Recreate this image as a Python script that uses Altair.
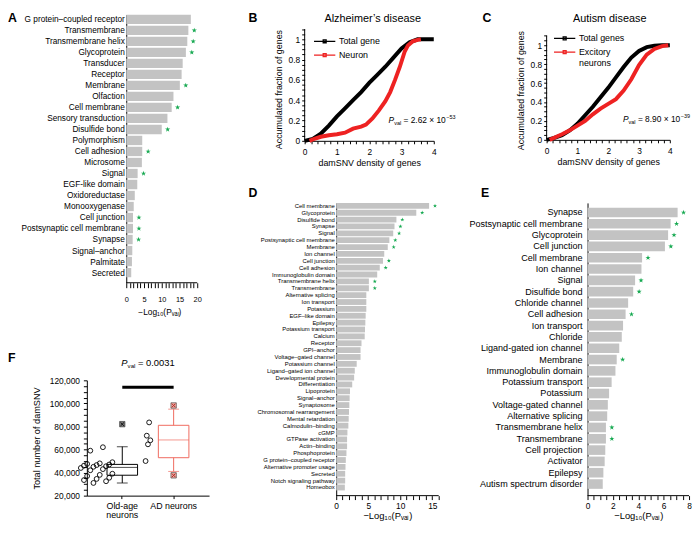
import altair as alt
import pandas as pd

FONT = "Liberation Sans"
GRAY = "#c3c3c3"
GREEN = "#16a951"
RED = "#ee2222"
BOXRED = "#ef6a5e"
STAR = "M0,-1L0.2245,-0.309L0.951,-0.309L0.363,0.118L0.588,0.809L0,0.382L-0.588,0.809L-0.363,0.118L-0.951,-0.309L-0.2245,-0.309Z"
XMARK = "M-1,-1L1,1M-1,1L1,-1"
LEGSYM = "M-3.6,0H3.6M-0.5,-0.5H0.5V0.5H-0.5Z"
LOGP = "−Log₁₀(Pᵥₐₗ)"
ONE = pd.DataFrame({"k": [0]})

# ---------------- Panel A ----------------
a_terms = ["G protein–coupled receptor", "Transmembrane", "Transmembrane helix", "Glycoprotein",
           "Transducer", "Receptor", "Membrane", "Olfaction", "Cell membrane", "Sensory transduction",
           "Disulfide bond", "Polymorphism", "Cell adhesion", "Microsome", "Signal", "EGF-like domain",
           "Oxidoreductase", "Monooxygenase", "Cell junction", "Postsynaptic cell membrane", "Synapse",
           "Signal–anchor", "Palmitate", "Secreted"]
a_vals = [18.2, 17.5, 17.2, 16.8, 15.9, 15.6, 15.1, 13.3, 12.8, 11.6, 10.0, 4.5, 4.5, 4.4, 3.2, 3.1,
          2.4, 2.1, 1.9, 1.9, 1.8, 1.7, 1.6, 1.4]
a_stars = ["Transmembrane", "Transmembrane helix", "Glycoprotein", "Membrane", "Cell membrane",
           "Disulfide bond", "Cell adhesion", "Signal", "Cell junction", "Postsynaptic cell membrane", "Synapse"]

# ---------------- Panel D ----------------
d_terms = ["Cell membrane", "Glycoprotein", "Disulfide bond", "Synapse", "Signal", "Postsynaptic cell membrane",
           "Membrane", "Ion channel", "Cell junction", "Cell adhesion", "Immunoglobulin domain",
           "Transmembrane helix", "Transmembrane", "Alternative splicing", "Ion transport", "Potassium",
           "EGF–like domain", "Epilepsy", "Potassium transport", "Calcium", "Receptor", "GPI–anchor",
           "Voltage–gated channel", "Potassium channel", "Ligand–gated ion channel", "Developmental protein",
           "Differentiation", "Lipoprotein", "Signal–anchor", "Synaptosome", "Chromosomal rearrangement",
           "Mental retardation", "Calmodulin–binding", "cGMP", "GTPase activation", "Actin–binding",
           "Phosphoprotein", "G protein–coupled receptor", "Alternative promoter usage", "Secreted",
           "Notch signaling pathway", "Homeobox"]
d_vals = [14.5, 12.5, 9.4, 9.1, 8.9, 8.3, 8.05, 7.5, 7.3, 6.8, 6.4, 5.1, 5.1, 4.7, 4.7, 4.7, 4.6, 4.55,
          4.5, 4.45, 3.95, 3.8, 3.8, 3.2, 2.9, 2.8, 2.5, 2.15, 2.1, 2.05, 2.0, 1.95, 1.9, 1.75, 1.7, 1.7,
          1.6, 1.5, 1.45, 1.4, 1.4, 1.35]
d_stars = ["Cell membrane", "Glycoprotein", "Disulfide bond", "Synapse", "Signal", "Postsynaptic cell membrane",
           "Membrane", "Cell junction", "Cell adhesion", "Transmembrane helix", "Transmembrane"]

# ---------------- Panel E ----------------
e_terms = ["Synapse", "Postsynaptic cell membrane", "Glycoprotein", "Cell junction", "Cell membrane",
           "Ion channel", "Signal", "Disulfide bond", "Chloride channel", "Cell adhesion", "Ion transport",
           "Chloride", "Ligand-gated ion channel", "Membrane", "Immunoglobulin domain", "Potassium transport",
           "Potassium", "Voltage-gated channel", "Alternative splicing", "Transmembrane helix", "Transmembrane",
           "Cell projection", "Activator", "Epilepsy", "Autism spectrum disorder"]
e_vals = [7.1, 6.55, 6.35, 6.1, 4.3, 4.25, 3.75, 3.6, 3.2, 3.0, 2.8, 2.7, 2.5, 2.3, 2.2, 1.9, 1.7, 1.6,
          1.55, 1.45, 1.45, 1.4, 1.35, 1.25, 1.2]
e_stars = ["Synapse", "Postsynaptic cell membrane", "Glycoprotein", "Cell junction", "Cell membrane", "Signal",
           "Disulfide bond", "Cell adhesion", "Membrane", "Transmembrane helix", "Transmembrane"]

# ---------------- Panel B ----------------
b_names = ["Total gene", "Neuron"]
b_tot_x = [0, 0.25, 0.5, 0.75, 1.0, 1.25, 1.5, 1.75, 2.0, 2.25, 2.5, 2.75, 3.0, 3.25, 3.5, 3.75, 4.0]
b_tot_y = [0, 0.02, 0.07, 0.15, 0.24, 0.32, 0.40, 0.48, 0.57, 0.65, 0.73, 0.82, 0.91, 0.97, 1.0, 1.0, 1.0]
b_sub_x = [0.15, 0.3, 0.5, 0.75, 1.0, 1.25, 1.5, 1.75, 1.9, 2.1, 2.3, 2.5, 2.65, 2.8, 2.95, 3.1, 3.2, 3.35, 3.5, 3.6]
b_sub_y = [0.0, 0.02, 0.04, 0.055, 0.065, 0.08, 0.12, 0.14, 0.16, 0.22, 0.30, 0.39, 0.48, 0.60, 0.73, 0.88,
           0.94, 0.98, 0.995, 1.0]
b_pval = ("2.62", "−53")
b_pval_pos = (2.6, 0.175)

# ---------------- Panel C ----------------
c_names = ["Total genes", "Excitory neurons"]
c_tot_x = [0, 0.25, 0.5, 0.75, 1.0, 1.25, 1.5, 1.75, 2.0, 2.25, 2.5, 2.75, 3.0, 3.25, 3.5, 3.75, 4.0]
c_tot_y = [0, 0.02, 0.05, 0.10, 0.17, 0.26, 0.35, 0.45, 0.55, 0.66, 0.77, 0.87, 0.94, 0.98, 0.995, 1.0, 1.0]
c_sub_x = [0.1, 0.3, 0.5, 0.75, 1.0, 1.25, 1.5, 1.75, 2.0, 2.25, 2.5, 2.75, 3.0, 3.25, 3.5, 3.75, 3.95]
c_sub_y = [0, 0.03, 0.06, 0.10, 0.15, 0.20, 0.27, 0.33, 0.38, 0.43, 0.52, 0.64, 0.79, 0.90, 0.96, 0.99, 1.0]
c_pval = ("8.90", "−39")
c_pval_pos = (2.48, 0.19)

# ---------------- Panel F ----------------
f_groups = ["Old-age neurons", "AD neurons"]
f_whisk_lo = [31000, 41000]
f_q1 = [37700, 52900]
f_median = [44500, 68300]
f_q3 = [47100, 81000]
f_whisk_hi = [62500, 95000]
old_points = [62000, 59000, 49000, 48000, 47500, 47000, 46500, 46000, 45500, 45000, 44000, 43000, 42000,
              39000, 38000, 37000, 35500, 34500, 33500, 32500, 31000]
ad_points = [83500, 72000, 68000, 64500, 50000]
old_outliers = [82000]
ad_outliers = [98200, 37600]
f_sig_level = 114000
f_pval = "0.0031"


def letter_layer(ch, dx, dy):
    return alt.Chart(ONE).mark_text(text=ch, align="left", baseline="top", fontSize=12.5,
                                    fontWeight="bold", font=FONT, color="black").encode(
        x=alt.value(dx), y=alt.value(dy))


def bar_panel(terms, vals, stars, xmin, xmax, tick_step, label_every, width, height, pad_outer, band_align,
              label_size, tick_label_size, title_size, tick_size, tick_label_pad, title_pad, star_size,
              y_label_pad, y_offset, letter, ldx, ldy, title_x=None):
    df = pd.DataFrame({"term": terms, "val": vals})
    df["star"] = df["term"].isin(stars)
    n = int(round(xmax / tick_step))
    ticks = [round(i * tick_step, 3) for i in range(n + 1)]
    yenc = alt.Y("term:N", sort=terms, title=None,
                 scale=alt.Scale(paddingInner=0.15, paddingOuter=pad_outer, align=band_align),
                 axis=alt.Axis(ticks=False, labelFontSize=label_size, labelPadding=y_label_pad,
                               labelLimit=400, offset=y_offset))
    ax_kw = dict(values=ticks, domain=False,
                 labelExpr=f"abs(datum.value/{label_every} - round(datum.value/{label_every})) < 0.001 ? format(datum.value, 'd') : ''",
                 tickSize=tick_size, labelFontSize=tick_label_size, labelPadding=tick_label_pad,
                 titleFontSize=title_size, titlePadding=title_pad, labelFlush=False,
                 labelOverlap=False, grid=False)
    if title_x is not None:
        ax_kw["titleX"] = title_x
    xenc = alt.X("val:Q", title=LOGP, scale=alt.Scale(domain=[xmin, xmax], nice=False, zero=False),
                 axis=alt.Axis(**ax_kw))
    base = alt.Chart(df)
    bars = base.mark_bar(color=GRAY).encode(x=xenc, x2=alt.datum(0), y=yenc)
    st = base.transform_filter("datum.star").mark_point(
        shape=STAR, filled=True, color=GREEN, size=star_size, opacity=1, xOffset=6, strokeWidth=0
    ).encode(x=xenc, y=yenc)
    base_df = pd.DataFrame({"val": [0], "val2": [xmax]})
    axis_line = alt.Chart(base_df).mark_rule(color="black", strokeWidth=1).encode(
        x=xenc, x2="val2:Q", y=alt.value(height))
    return alt.layer(bars, st, axis_line, letter_layer(letter, ldx, ldy)).properties(width=width, height=height)


def pval_layers(df, X, Y, mant, expo, fs):
    sub = fs * 0.65
    w_p = 0.667 * fs
    w_val = 1.278 * sub
    start_eq = w_p + w_val + 0.278 * fs
    eq_text = f"= {mant} × 10" if expo else f"= {mant}"
    w_eq = (0.584 + 0.278 + len(mant) * 0.556 - (0.278 if "." in mant else 0)
            + (0.278 + 0.584 + 0.278 + 1.112 if expo else 0)) * fs
    common = dict(align="left", baseline="alphabetic", font=FONT, color="black")
    layers = [
        alt.Chart(df).mark_text(text="P", fontStyle="italic", fontSize=fs, **common).encode(x=X, y=Y),
        alt.Chart(df).mark_text(text="val", fontSize=sub, dx=w_p, dy=2, **common).encode(x=X, y=Y),
        alt.Chart(df).mark_text(text=eq_text, fontSize=fs, dx=start_eq, **common).encode(x=X, y=Y),
    ]
    if expo:
        layers.append(alt.Chart(df).mark_text(text=expo, fontSize=sub, dx=start_eq + w_eq + 0.5, dy=-4,
                                              **common).encode(x=X, y=Y))
    return layers


def cdf_panel(xt, yt, xs, ys, names, width, height, ytop, title, tdx, tdy, pv_pos, pv, letter, ldx, ldy, lx, ly,
              ytitle_y):
    tot = pd.DataFrame({"x": xt, "y": yt, "s": names[0]})
    sub = pd.DataFrame({"x": xs, "y": ys, "s": names[1]})
    X = alt.X("x:Q", scale=alt.Scale(domain=[0, 4], nice=False),
              axis=alt.Axis(values=[round(i * 0.2, 1) for i in range(21)],
                            labelExpr="abs(datum.value - round(datum.value)) < 0.001 ? format(datum.value, 'd') : ''",
                            title="damSNV density of genes", tickSize=3, labelPadding=4, labelFontSize=8.5,
                            titleFontSize=9, titlePadding=3, labelFlush=False, labelOverlap=False))
    Y = alt.Y("y:Q", scale=alt.Scale(domain=[0, ytop], nice=False),
              axis=alt.Axis(values=[round(i * 0.05, 2) for i in range(23)], domain=False,
                            labelExpr="abs(datum.value*5 - round(datum.value*5)) < 0.001 ? format(datum.value, '~g') : ''",
                            title="Accumulated fraction of genes", tickSize=3, labelPadding=2, labelFontSize=8.5,
                            titleFontSize=9, titlePadding=5, titleY=ytitle_y, labelFlush=False,
                            labelOverlap=False))
    leg = alt.Legend(orient="none", legendX=lx, legendY=ly, title=None, padding=0, labelFontSize=9,
                     symbolType=LEGSYM, symbolSize=36, symbolStrokeWidth=1.3, labelOffset=10, rowPadding=4,
                     labelExpr="datum.label == 'Excitory neurons' ? ['Excitory', 'neurons'] : datum.label")
    C = alt.Color("s:N", scale=alt.Scale(domain=names, range=["black", RED]), legend=leg)
    l1 = alt.Chart(tot).mark_line(strokeWidth=4).encode(x=X, y=Y, color=C)
    l2 = alt.Chart(sub).mark_line(strokeWidth=4).encode(x=X, y=Y, color=C)
    yline = alt.Chart(pd.DataFrame({"x": [0], "y": [0], "y2": [1.1]})).mark_rule(
        color="black", strokeWidth=1).encode(x=X, y=Y, y2="y2:Q")
    pv_df = pd.DataFrame({"x": [pv_pos[0]], "y": [pv_pos[1]]})
    ttl = alt.Chart(ONE).mark_text(text=title, fontSize=11, align="center", baseline="middle", font=FONT,
                                   color="black").encode(x=alt.value(tdx), y=alt.value(tdy))
    layers = [yline, l1, l2] + pval_layers(pv_df, X, Y, pv[0], pv[1], 8.5) + [ttl, letter_layer(letter, ldx, ldy)]
    return alt.layer(*layers).properties(width=width, height=height)


# ---------- build panels ----------
A = bar_panel(a_terms, a_vals, a_stars, -11.111, 20, 1, 5, 112, 272, 0.25, 0, 8.4, 7.5, 8.5, 5, 8, 5, 30, 2,
              -40, "A", -80, -3, title_x=73.5)
D = bar_panel(d_terms, d_vals, d_stars, -4.923, 16, 1, 5, 136, 297, 0.38, 0, 6, 8.5, 9.5, 4, 2, 0.5, 20, 2,
              -32, "D", -57, -16, title_x=84)
E = bar_panel(e_terms, e_vals, e_stars, 0, 8, 0.5, 2, 103, 297, 0.51, 0.41, 9.2, 8.5, 9.5, 4, 2, 0.5, 30, 5.5,
              0, "E", -108, -16)

B = cdf_panel(b_tot_x, b_tot_y, b_sub_x, b_sub_y, b_names, 131, 128, 1.2427, "Alzheimer’s disease", 69, 4,
              b_pval_pos, b_pval, "B", -57, -3, 15.8, 22.5, 75.5)
Cp = cdf_panel(c_tot_x, c_tot_y, c_sub_x, c_sub_y, c_names, 125, 127, 1.3229, "Autism disease", 64, 4,
               c_pval_pos, c_pval, "C", -65, -3, 13.8, 19.5, 76.5)

# F panel
box_df = pd.DataFrame({"cat": f_groups, "lo": f_whisk_lo, "q1": f_q1, "med": f_median, "q3": f_q3,
                       "hi": f_whisk_hi})
pts_df = pd.DataFrame({"cat": [f_groups[0]] * len(old_points) + [f_groups[1]] * len(ad_points),
                       "v": old_points + ad_points})
out_df = pd.DataFrame({"cat": [f_groups[0]] * len(old_outliers) + [f_groups[1]] * len(ad_outliers),
                       "v": old_outliers + ad_outliers})
sig_df = pd.DataFrame({"cat": f_groups, "v": [f_sig_level, f_sig_level]})


def yF(field):
    return alt.Y(f"{field}:Q", scale=alt.Scale(domain=[20000, 120000], nice=False, zero=False),
                 axis=alt.Axis(values=list(range(20000, 120001, 5000)),
                               labelExpr="datum.value % 20000 === 0 ? format(datum.value, ',') : ''",
                               title="Total number of damSNV", tickSize=3.5, labelPadding=4, labelFontSize=8.5,
                               titleFontSize=9.3, titlePadding=8, labelOverlap=False, labelFlush=False))


xF = alt.X("cat:N", sort=f_groups, title=None,
           scale=alt.Scale(type="band", domain=f_groups, paddingInner=0, paddingOuter=0.19),
           axis=alt.Axis(labelAngle=0, labelFontSize=9, tickSize=3, labelPadding=3, labelLineHeight=9.5,
                         labelExpr="datum.label == 'Old-age neurons' ? ['Old-age', 'neurons'] : datum.label"))
colr = alt.condition("datum.cat == 'AD neurons'", alt.value(BOXRED), alt.value("black"))

fb = alt.Chart(box_df)
f_box = fb.mark_bar(size=31, fillOpacity=0, strokeWidth=1).encode(x=xF, y=yF("q1"), y2="q3:Q", stroke=colr)
f_med = fb.mark_tick(size=31, thickness=1).encode(x=xF, y=yF("med"), color=colr)
f_w1 = fb.mark_rule(strokeWidth=1).encode(x=xF, y=yF("lo"), y2="q1:Q", color=colr)
f_w2 = fb.mark_rule(strokeWidth=1).encode(x=xF, y=yF("q3"), y2="hi:Q", color=colr)
f_c1 = fb.mark_tick(size=11, thickness=1).encode(x=xF, y=yF("lo"), color=colr)
f_c2 = fb.mark_tick(size=11, thickness=1).encode(x=xF, y=yF("hi"), color=colr)
f_pts = alt.Chart(pts_df).transform_window(i="row_number()", groupby=["cat"]).transform_calculate(
    jit="datum.cat == 'AD neurons' ? ((datum.i * 3) % 5 - 2) * 1.2 : ((datum.i * 7) % 11 - 5) * 3.2"
).mark_point(shape="circle", size=24, filled=False, strokeWidth=0.9, color="black", opacity=1).encode(
    x=xF, xOffset=alt.XOffset("jit:Q", scale=None), y=yF("v"))
f_out_sq = alt.Chart(out_df).mark_point(shape="square", size=30, filled=True, opacity=1, stroke="#333333",
                                        strokeWidth=0.6).encode(
    x=xF, y=yF("v"), color=alt.condition("datum.cat == 'AD neurons'", alt.value("#f2aaa3"), alt.value("#7a7a7a")))
f_out_x = alt.Chart(out_df).mark_point(shape=XMARK, size=12, filled=False, strokeWidth=1, opacity=1).encode(
    x=xF, y=yF("v"), color=alt.condition("datum.cat == 'AD neurons'", alt.value("#b02a25"), alt.value("#111111")))
f_sig = alt.Chart(sig_df).mark_line(strokeWidth=3, color="black").encode(x=xF, y=yF("v"))

fs = 9.5
subfs = fs * 0.65
f_common = dict(align="left", baseline="alphabetic", font=FONT, color="black")
f_p1 = alt.Chart(ONE).mark_text(text="P", fontStyle="italic", fontSize=fs, **f_common).encode(
    x=alt.value(35), y=alt.value(-14.6))
f_p2 = alt.Chart(ONE).mark_text(text="val", fontSize=subfs, **f_common).encode(
    x=alt.value(35 + 0.667 * fs), y=alt.value(-12.6))
f_p3 = alt.Chart(ONE).mark_text(text=f"= {f_pval}", fontSize=fs, **f_common).encode(
    x=alt.value(35 + 0.667 * fs + 1.278 * subfs + 0.278 * fs), y=alt.value(-14.6))

F = alt.layer(f_box, f_w1, f_w2, f_c1, f_c2, f_med, f_pts, f_out_sq, f_out_x, f_sig, f_p1, f_p2, f_p3,
              letter_layer("F", -80, -29)).properties(width=124, height=117)

indep = dict(x="independent", y="independent", color="independent")

col1 = alt.vconcat(A, F, spacing=36).resolve_scale(**indep)
row1 = alt.hconcat(B, Cp, spacing=26.5).resolve_scale(**indep)
row2 = alt.hconcat(D, E, spacing=29).resolve_scale(**indep)
right = alt.vconcat(row1, row2, spacing=19).resolve_scale(**indep)

chart = alt.hconcat(col1, right, spacing=40).resolve_scale(**indep).properties(
    padding={"left": 0, "top": 0, "right": 0, "bottom": 0}
).configure_view(stroke=None).configure_axis(
    labelFont=FONT, titleFont=FONT, titleFontWeight="normal", labelColor="black", titleColor="black",
    domainColor="black", tickColor="black", grid=False
).configure_legend(labelFont=FONT, labelColor="black")

chart.save("out.html", embed_options={"renderer": "svg", "actions": False})
